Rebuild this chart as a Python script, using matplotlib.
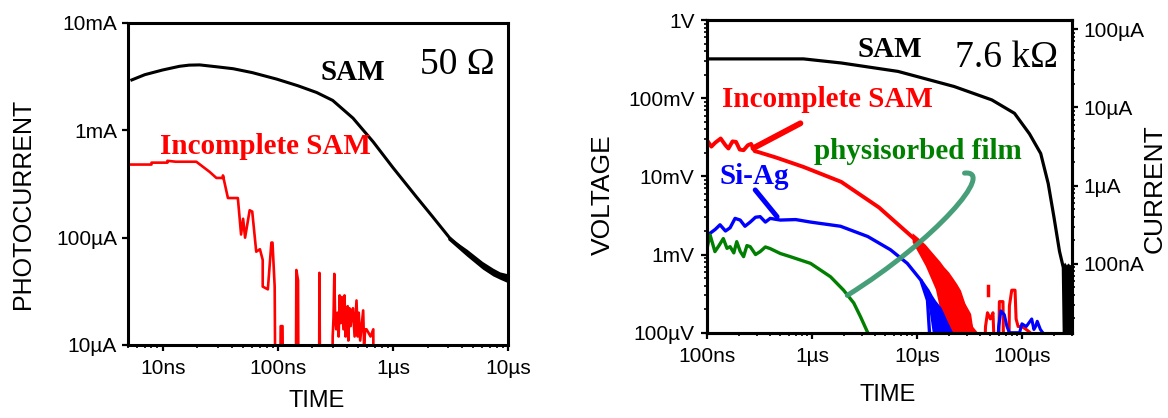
import numpy as np
import matplotlib
matplotlib.use('Agg')
import matplotlib.pyplot as plt
from matplotlib.path import Path
from matplotlib.patches import PathPatch
from matplotlib.ticker import FixedLocator, NullLocator, LogLocator

plt.rcParams['font.family'] = ['Liberation Sans', 'DejaVu Sans']

RED = '#ff0000'
BLUE = '#0000ff'
GREEN = '#007f00'
SERIF = 'Liberation Serif'

# ---------- 50 ohm load: photocurrent (A) vs time (s) ----------
sam50_t = [5.4e-9, 7e-9, 1e-8, 1.4e-8, 1.7e-8, 2.1e-8, 3e-8, 4.1e-8, 6e-8, 9.8e-8,
           1.5e-7, 2.18e-7, 3e-7, 4.5e-7, 6.75e-7, 1e-6, 1.6e-6, 2.2e-6, 3.1e-6,
           4.4e-6, 7.4e-6, 1e-5]
sam50_i = [2.95e-3, 3.3e-3, 3.65e-3, 3.95e-3, 4.05e-3, 4.07e-3, 3.9e-3, 3.75e-3, 3.45e-3,
           3.0e-3, 2.6e-3, 2.25e-3, 1.9e-3, 1.3e-3, 0.78e-3, 0.45e-3, 0.24e-3, 0.158e-3,
           0.10e-3, 72e-6, 47e-6, 41e-6]
sam50_noise_t = [3.0e-6, 4.4e-6, 6e-6, 7.4e-6, 8.5e-6, 1e-5]
sam50_noise_lo = [96e-6, 67e-6, 51e-6, 44e-6, 41e-6, 38e-6]
sam50_noise_hi = [104e-6, 78e-6, 60e-6, 52e-6, 48e-6, 46e-6]

inc50_t = [5e-9, 8e-9, 8e-9, 11e-9, 11e-9, 13e-9, 19.6e-9, 25.6e-9, 29.3e-9, 33.4e-9,
           33.4e-9, 36.9e-9, 45e-9, 48e-9, 50e-9, 52e-9, 57e-9, 60e-9, 65e-9, 70e-9,
           74e-9, 74e-9, 82e-9, 88e-9, 90e-9, 94e-9, 96e-9, 104e-9, 106e-9, 110e-9,
           112e-9, 143e-9, 145e-9, 150e-9, 152e-9, 228e-9, 230e-9, 235e-9, 295e-9,
           300e-9, 305e-9, 310e-9, 315e-9, 322e-9, 330e-9, 338e-9, 345e-9, 352e-9,
           360e-9, 372e-9, 380e-9, 388e-9, 395e-9, 405e-9, 410e-9, 420e-9, 430e-9,
           440e-9, 450e-9, 465e-9, 483e-9, 495e-9, 505e-9, 520e-9, 552e-9, 562e-9,
           575e-9, 590e-9, 640e-9, 676e-9, 680e-9]
inc50_i = [480e-6, 480e-6, 500e-6, 500e-6, 520e-6, 510e-6, 510e-6, 410e-6, 360e-6, 360e-6,
           380e-6, 234e-6, 234e-6, 107e-6, 150e-6, 100e-6, 180e-6, 175e-6, 74e-6, 78e-6,
           62e-6, 35e-6, 33e-6, 90e-6, 90e-6, 35e-6, 1e-6, 1e-6, 15e-6, 15e-6,
           1e-6, 1e-6, 50e-6, 40e-6, 1e-6, 1e-6, 47e-6, 1e-6, 1e-6,
           12e-6, 18e-6, 46e-6, 18e-6, 14e-6, 20e-6, 12e-6, 29e-6, 16e-6,
           28e-6, 14e-6, 29e-6, 12e-6, 15e-6, 23e-6, 11e-6, 22e-6, 15e-6,
           20e-6, 22e-6, 12e-6, 26e-6, 12e-6, 20e-6, 11e-6, 21e-6, 10e-6,
           14e-6, 14e-6, 12e-6, 14e-6, 1e-6]

# ---------- 7.6 kohm load: voltage (V) vs time (s) ----------
R_LOAD = 7.6e3

sam_t = [1e-7, 3e-7, 8.3e-7, 1.9e-6, 6.6e-6, 22.6e-6, 51.7e-6, 85e-6, 118e-6, 151e-6,
         178e-6, 202e-6, 228e-6, 248e-6, 255e-6]
sam_v = [0.318, 0.318, 0.318, 0.282, 0.22, 0.141, 0.095, 0.064, 0.035, 0.0196,
         8.1e-3, 3.0e-3, 1.1e-3, 0.68e-3, 0.05e-3]
sam_noise_t = [248e-6, 255e-6, 265e-6, 275e-6, 285e-6, 300e-6]
sam_noise_hi = [0.75e-3, 0.8e-3, 0.74e-3, 0.78e-3, 0.74e-3, 0.76e-3]

inc_t = [1e-7, 1.1e-7, 1.2e-7, 1.35e-7, 1.5e-7, 1.6e-7, 1.75e-7, 1.89e-7, 2.05e-7, 2.23e-7,
         2.45e-7, 2.63e-7, 2.85e-7, 3.1e-7, 4.5e-7, 8.3e-7, 1.9e-6, 4.35e-6, 9.9e-6,
         15e-6, 22.6e-6, 31.5e-6, 36e-6]
inc_v = [29e-3, 24e-3, 27e-3, 30.5e-3, 25e-3, 22.7e-3, 28e-3, 27.6e-3, 22e-3, 21.6e-3,
         25e-3, 26e-3, 21e-3, 20.4e-3, 17.5e-3, 13.2e-3, 8.5e-3, 4.0e-3, 1.5e-3,
         0.83e-3, 0.38e-3, 0.17e-3, 0.05e-3]
inc_noise_t = [9e-6, 10.5e-6, 12e-6, 13.5e-6, 15e-6, 16.5e-6, 18e-6, 20e-6, 22e-6, 24e-6,
               26e-6, 28e-6, 30e-6, 34e-6, 38e-6]
inc_noise_lo = [1.45e-3, 1.0e-3, 0.72e-3, 0.5e-3, 0.36e-3, 0.2e-3, 0.12e-3, 0.1e-3,
                0.09e-3, 0.05e-3, 0.05e-3, 0.05e-3, 0.05e-3, 0.05e-3, 0.05e-3]
inc_noise_hi = [1.9e-3, 1.6e-3, 1.35e-3, 1.12e-3, 0.95e-3, 0.82e-3, 0.7e-3, 0.6e-3,
                0.5e-3, 0.42e-3, 0.35e-3, 0.26e-3, 0.18e-3, 0.12e-3, 0.1e-3]
inc_tail_t = [44e-6, 45e-6, 47e-6, 50e-6, 53e-6, 55e-6, 60e-6, 61e-6, 66e-6, 67e-6,
              75e-6, 76e-6, 80e-6, 86e-6, 88e-6, 92e-6, 100e-6, 110e-6, 120e-6, 121e-6]
inc_tail_v = [0.05e-3, 0.12e-3, 0.18e-3, 0.15e-3, 0.18e-3, 0.05e-3, 0.05e-3, 0.25e-3, 0.25e-3,
              0.05e-3, 0.05e-3, 0.22e-3, 0.35e-3, 0.35e-3, 0.15e-3, 0.12e-3, 0.12e-3, 0.11e-3,
              0.1e-3, 0.05e-3]
inc_blip_t = [48e-6, 48e-6]
inc_blip_v = [0.30e-3, 0.40e-3]

siag_t = [1.07e-7, 1.2e-7, 1.33e-7, 1.5e-7, 1.66e-7, 1.85e-7, 2.07e-7, 2.3e-7, 2.58e-7,
          2.9e-7, 3.21e-7, 3.6e-7, 4.0e-7, 5e-7, 7e-7, 9.7e-7, 1.87e-6, 3.4e-6, 5.6e-6,
          8.1e-6, 10.9e-6, 12.6e-6, 13.6e-6]
siag_v = [1.87e-3, 2.1e-3, 2.4e-3, 2.0e-3, 2.2e-3, 2.9e-3, 2.76e-3, 2.3e-3, 2.6e-3,
          3.0e-3, 3.05e-3, 2.6e-3, 2.9e-3, 2.76e-3, 2.8e-3, 2.6e-3, 2.3e-3, 1.7e-3, 1.15e-3,
          0.77e-3, 0.47e-3, 0.26e-3, 0.05e-3]
siag_noise_t = [11e-6, 12e-6, 13e-6, 14e-6, 15e-6, 17e-6, 19.5e-6, 22e-6]
siag_noise_lo = [0.42e-3, 0.3e-3, 0.2e-3, 0.1e-3, 0.05e-3, 0.05e-3, 0.05e-3, 0.05e-3]
siag_noise_hi = [0.5e-3, 0.42e-3, 0.36e-3, 0.3e-3, 0.26e-3, 0.21e-3, 0.14e-3, 0.1e-3]
siag_tail_t = [58e-6, 60e-6, 63e-6, 68e-6, 72e-6, 76e-6, 95e-6, 100e-6, 110e-6, 124e-6,
               130e-6, 135e-6, 140e-6, 150e-6, 158e-6, 160e-6]
siag_tail_v = [0.05e-3, 0.12e-3, 0.19e-3, 0.17e-3, 0.12e-3, 0.1e-3, 0.1e-3, 0.13e-3, 0.12e-3,
               0.15e-3, 0.11e-3, 0.12e-3, 0.14e-3, 0.11e-3, 0.1e-3, 0.05e-3]

phys_t = [1.0e-7, 1.07e-7, 1.19e-7, 1.3e-7, 1.43e-7, 1.55e-7, 1.66e-7, 1.8e-7, 1.92e-7,
          2.07e-7, 2.23e-7, 2.4e-7, 2.58e-7, 2.9e-7, 3.21e-7, 3.6e-7, 4.0e-7, 5.0e-7,
          6.2e-7, 9.7e-7, 1.5e-6, 2.0e-6, 2.5e-6, 2.9e-6, 3.4e-6, 3.6e-6]
phys_v = [1.2e-3, 1.78e-3, 1.09e-3, 1.3e-3, 1.6e-3, 1.2e-3, 1.26e-3, 1.05e-3, 1.46e-3,
          1.1e-3, 0.94e-3, 1.3e-3, 1.26e-3, 1.0e-3, 1.09e-3, 1.25e-3, 1.19e-3, 1.03e-3,
          0.94e-3, 0.77e-3, 0.52e-3, 0.35e-3, 0.24e-3, 0.16e-3, 0.1e-3, 0.05e-3]

left_xticks = [1e-8, 1e-7, 1e-6, 1e-5]
left_xlabels = ['10ns', '100ns', '1µs', '10µs']
left_yticks = [1e-5, 1e-4, 1e-3, 1e-2]
left_ylabels = ['10µA', '100µA', '1mA', '10mA']
right_xticks = [1e-7, 1e-6, 1e-5, 1e-4]
right_xlabels = ['100ns', '1µs', '10µs', '100µs']
right_yticks = [1e-4, 1e-3, 1e-2, 1e-1, 1]
right_ylabels = ['100µV', '1mV', '10mV', '100mV', '1V']
cur_ticks = [1e-7, 1e-6, 1e-5, 1e-4]
cur_labels = ['100nA', '1µA', '10µA', '100µA']

fig = plt.figure(figsize=(11.68, 4.18), dpi=100)
axL = fig.add_axes([128 / 1168, 1 - 345 / 418, 380 / 1168, 322 / 418])
axR = fig.add_axes([707 / 1168, 1 - 332.7 / 418, 365 / 1168, 312.7 / 418])


def style(ax):
    ax.set_xscale('log')
    ax.set_yscale('log')
    for sp in ax.spines.values():
        sp.set_linewidth(2.2)
    ax.tick_params(which='major', direction='out', length=4, width=1.6, labelsize=15)
    ax.tick_params(which='minor', direction='out', length=2.2, width=1.2)


# left panel
style(axL)
axL.fill_between(sam50_noise_t, sam50_noise_lo, sam50_noise_hi, color='black', lw=0)
axL.plot(sam50_t, sam50_i, color='black', lw=2.2)
axL.plot(inc50_t, inc50_i, color=RED, lw=1.9)
axL.set_xlim(5e-9, 1e-5)
axL.set_ylim(1e-5, 1e-2)
axL.xaxis.set_major_locator(FixedLocator(left_xticks))
axL.set_xticklabels(left_xlabels)
axL.xaxis.set_minor_locator(LogLocator(base=10, subs=np.arange(2, 10)))
axL.yaxis.set_major_locator(FixedLocator(left_yticks))
axL.set_yticklabels(left_ylabels)
axL.yaxis.set_minor_locator(NullLocator())
axL.tick_params(axis='x', pad=6)
axL.tick_params(axis='y', pad=4)

axL.text(0.592, 0.845, 'SAM', transform=axL.transAxes, ha='center', va='center',
         family=SERIF, weight='bold', fontsize=21)
axL.text(0.866, 0.87, '50 Ω', transform=axL.transAxes, ha='center', va='center',
         family=SERIF, fontsize=27)
axL.text(0.362, 0.615, 'Incomplete SAM', transform=axL.transAxes, ha='center', va='center',
         family=SERIF, weight='bold', fontsize=21, color=RED)

# right panel
style(axR)
axR.fill_between(sam_noise_t, 0.05e-3, sam_noise_hi, color='black', lw=0)
axR.plot(sam_t, sam_v, color='black', lw=2.3)
axR.fill_between(inc_noise_t, inc_noise_lo, inc_noise_hi, color=RED, lw=0)
axR.plot(inc_t, inc_v, color=RED, lw=2.8)
axR.plot(inc_tail_t, inc_tail_v, color=RED, lw=2.2)
axR.plot(inc_blip_t, inc_blip_v, color=RED, lw=2.5)
axR.fill_between(siag_noise_t, siag_noise_lo, siag_noise_hi, color=BLUE, lw=0)
axR.plot(siag_t, siag_v, color=BLUE, lw=2.4)
axR.plot(siag_tail_t, siag_tail_v, color=BLUE, lw=2.2)
axR.plot(phys_t, phys_v, color=GREEN, lw=2.4)
axR.set_xlim(1e-7, 3e-4)
axR.set_ylim(1e-4, 1)
axR.xaxis.set_major_locator(FixedLocator(right_xticks))
axR.set_xticklabels(right_xlabels)
axR.xaxis.set_minor_locator(LogLocator(base=10, subs=np.arange(2, 10)))
axR.yaxis.set_major_locator(FixedLocator(right_yticks))
axR.set_yticklabels(right_ylabels)
axR.yaxis.set_minor_locator(LogLocator(base=10, subs=np.arange(2, 10)))
axR.tick_params(axis='x', pad=6)
axR.tick_params(axis='y', pad=5)

# current scale on the right follows from the load resistor
axC = axR.twinx()
axC.set_yscale('log')
axC.set_ylim(1e-4 / R_LOAD, 1 / R_LOAD)
axC.yaxis.set_major_locator(FixedLocator(cur_ticks))
axC.set_yticklabels(cur_labels)
axC.yaxis.set_minor_locator(LogLocator(base=10, subs=np.arange(2, 10)))
for sp in axC.spines.values():
    sp.set_linewidth(2.2)
axC.tick_params(which='major', direction='out', length=4, width=1.6, labelsize=15, pad=4)
axC.tick_params(which='minor', direction='out', length=2.2, width=1.2)

# pointer strokes from labels to curves
axR.annotate('', xy=(2.77e-7, 23e-3), xytext=(7.76e-7, 47.7e-3),
             arrowprops=dict(arrowstyle='-', color=RED, lw=4.2, shrinkA=0, shrinkB=0))
axR.annotate('', xy=(4.65e-7, 3.05e-3), xytext=(2.88e-7, 6.7e-3),
             arrowprops=dict(arrowstyle='-', color=BLUE, lw=3.6, shrinkA=0, shrinkB=0))
hook = Path([(2.17e-6, 0.30e-3), (15.2e-6, 1.54e-3), (57e-6, 12.1e-3), (28.4e-6, 11e-3)],
            [Path.MOVETO, Path.CURVE4, Path.CURVE4, Path.CURVE4])
axR.add_patch(PathPatch(hook, fc='none', ec='#3d9a72', lw=3.6, alpha=0.95,
                        capstyle='round', zorder=5))

axR.text(0.5, 0.907, 'SAM', transform=axR.transAxes, ha='center', va='center',
         family=SERIF, weight='bold', fontsize=21)
axR.text(0.822, 0.88, '7.6 kΩ', transform=axR.transAxes, ha='center', va='center',
         family=SERIF, fontsize=27)
axR.text(0.329, 0.747, 'Incomplete SAM', transform=axR.transAxes, ha='center', va='center',
         family=SERIF, weight='bold', fontsize=21, color=RED)
axR.text(0.577, 0.579, 'physisorbed film', transform=axR.transAxes, ha='center', va='center',
         family=SERIF, weight='bold', fontsize=21, color='#008000')
axR.text(0.130, 0.501, 'Si-Ag', transform=axR.transAxes, ha='center', va='center',
         family=SERIF, weight='bold', fontsize=21, color=BLUE)

# axis titles
fig.text(23 / 1168, 1 - 203.5 / 418, 'PHOTOCURRENT', rotation=90, ha='center', va='center', fontsize=18)
fig.text(316.5 / 1168, 1 - 401 / 418, 'TIME', ha='center', va='center', fontsize=17)
fig.text(602.5 / 1168, 1 - 195 / 418, 'VOLTAGE', rotation=90, ha='center', va='center', fontsize=19)
fig.text(888 / 1168, 1 - 395 / 418, 'TIME', ha='center', va='center', fontsize=17)
fig.text(1154.5 / 1168, 1 - 188.5 / 418, 'CURRENT', rotation=90, ha='center', va='center', fontsize=19)

fig.savefig('out.png', dpi=100)
